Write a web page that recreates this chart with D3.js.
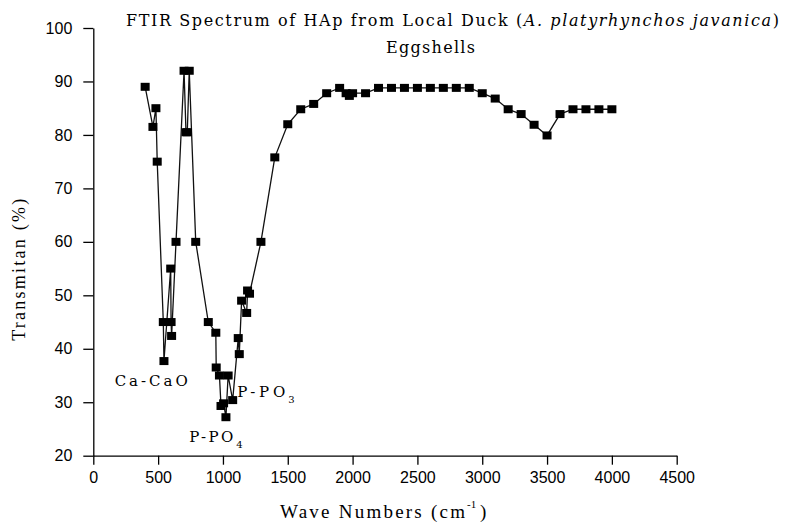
<!DOCTYPE html>
<html>
<head>
<meta charset="utf-8">
<script src="https://cdn.jsdelivr.net/npm/d3@7"></script>
<style>
  body { margin: 0; background: #fff; }
  svg { display: block; }
  .tick text { font-family: "Liberation Sans", Arial, sans-serif; font-size: 16px; fill: #000; }
  .domain, .tick line { stroke: #000; stroke-width: 1.3px; }
  .serif { font-family: "Liberation Serif", "Times New Roman", serif; fill: #000; }
  .wide { font-family: "DejaVu Serif", serif; fill: #000; }
</style>
</head>
<body>
<svg width="788" height="528"></svg>
<script>
/*------------------------
  ------ VARIABLES -------
  ------------------------*/

// data (wave number in cm-1, transmittance in %)
var wave  = [400, 460, 483, 493, 540, 545, 597, 600, 604, 638,
             700, 715, 725, 740, 790, 887, 945, 948, 973, 985,
             1005, 1023, 1040, 1075, 1118, 1126, 1144, 1183, 1190, 1205,
             1293, 1400, 1500, 1600, 1700, 1800, 1900, 1950, 1975, 2000,
             2100, 2200, 2300, 2400, 2500, 2600, 2700, 2800, 2900, 3000,
             3100, 3200, 3300, 3400, 3500, 3600, 3700, 3800, 3900, 4000];
var trans = [89, 81.5, 85, 75, 45, 37.7, 55, 45, 42.4, 60,
             92, 80.5, 80.5, 92, 60, 45, 43, 36.5, 35, 29.3,
             29.8, 27.2, 35, 30.4, 42, 39, 49, 46.7, 50.9, 50.3,
             60, 75.8, 82, 84.8, 85.8, 87.8, 88.8, 87.8, 87.3, 87.8,
             87.8, 88.8, 88.8, 88.8, 88.8, 88.8, 88.8, 88.8, 88.8, 87.8,
             86.8, 84.8, 83.9, 81.9, 79.9, 83.9, 84.8, 84.8, 84.8, 84.8];

// axes
var x_ticks = [0, 500, 1000, 1500, 2000, 2500, 3000, 3500, 4000, 4500];
var x_minor = [250, 750, 1250, 1750, 2250, 2750, 3250, 3750, 4250];
var y_ticks = [20, 30, 40, 50, 60, 70, 80, 90, 100];
var y_minor = [25, 35, 45, 55, 65, 75, 85, 95];

// peak labels
var peak_names = ["Ca-CaO", "P-PO", "P-PO"];
var peak_subs  = ["", "3", "4"];
var peak_wave  = [165, 1110, 740];
var peak_trans = [33.0, 31.0, 22.6];
var peak_len   = [73, 48, 44];

// texts
var title_main = "FTIR Spectrum of HAp from Local Duck (";
var title_ital = "A. platyrhynchos javanica";
var title_line2 = "Eggshells";

// display
var plot = {left: 93.3, top: 28, width: 583.4, height: 427.7};
var marker = {w: 9, h: 8};

var svg = d3.select("svg");
var x = d3.scaleLinear().domain([0, 4500]).range([plot.left, plot.left + plot.width]);
var y = d3.scaleLinear().domain([20, 100]).range([plot.top + plot.height, plot.top]);

/*---------------------
  ----- DRAW AXES -----
  ---------------------*/

function display_axes() {
    var gx = svg.append("g")
        .attr("transform", "translate(0," + y(20) + ")");
    gx.call(d3.axisBottom(x).tickValues(x_minor).tickSize(6).tickFormat(""));
    gx.call(d3.axisBottom(x).tickValues(x_ticks).tickSize(9).tickSizeOuter(0).tickPadding(7)
            .tickFormat(d3.format("d")));

    var gy = svg.append("g")
        .attr("transform", "translate(" + x(0) + ",0)");
    gy.call(d3.axisLeft(y).tickValues(y_minor).tickSize(6).tickFormat(""));
    gy.call(d3.axisLeft(y).tickValues(y_ticks).tickSize(10).tickSizeOuter(0).tickPadding(11)
            .tickFormat(d3.format("d")));
    svg.selectAll(".domain").attr("fill", "none");
}

/*---------------------
  ---- DRAW SERIES ----
  ---------------------*/

function display_series() {
    var pts = wave.map(function(w, i) { return [w, trans[i]]; });
    var line = d3.line()
        .x(function(d) { return x(d[0]); })
        .y(function(d) { return y(d[1]); });

    svg.append("path")
        .datum(pts)
        .attr("d", line)
        .attr("fill", "none")
        .attr("stroke", "#111")
        .attr("stroke-width", 1.3);

    svg.append("g").selectAll("rect")
        .data(pts)
        .enter()
        .append("rect")
        .attr("x", function(d) { return x(d[0]) - marker.w / 2; })
        .attr("y", function(d) { return y(d[1]) - marker.h / 2; })
        .attr("width", marker.w)
        .attr("height", marker.h)
        .attr("fill", "#000");
}

/*---------------------
  ---- DRAW LABELS ----
  ---------------------*/

function display_labels() {
    // title
    var t1 = svg.append("text").attr("class", "wide")
        .attr("x", 126).attr("y", 26)
        .attr("font-size", 16)
        .attr("textLength", 653).attr("lengthAdjust", "spacing");
    t1.append("tspan").text(title_main);
    t1.append("tspan").attr("font-style", "italic").text(title_ital);
    t1.append("tspan").text(")");

    svg.append("text").attr("class", "wide")
        .attr("x", 386).attr("y", 53)
        .attr("font-size", 16)
        .attr("textLength", 89).attr("lengthAdjust", "spacing")
        .text(title_line2);

    // axis titles
    svg.append("text").attr("class", "serif")
        .attr("transform", "translate(25," + (plot.top + plot.height / 2 + 28) + ") rotate(-90)")
        .attr("text-anchor", "middle")
        .attr("font-size", 18)
        .attr("textLength", 142).attr("lengthAdjust", "spacing")
        .text("Transmitan (%)");

    svg.append("text").attr("class", "serif")
        .attr("x", 280).attr("y", 518)
        .attr("font-size", 19)
        .attr("textLength", 185).attr("lengthAdjust", "spacing")
        .text("Wave Numbers (cm");
    svg.append("text").attr("class", "serif")
        .attr("x", 467).attr("y", 508)
        .attr("font-size", 11)
        .text("-1");
    svg.append("text").attr("class", "serif")
        .attr("x", 480).attr("y", 518)
        .attr("font-size", 19)
        .text(")");

    // peak names
    for (var i = 0; i < peak_names.length; i++) {
        var px = x(peak_wave[i]), py = y(peak_trans[i]);
        svg.append("text").attr("class", "wide")
            .attr("x", px).attr("y", py)
            .attr("font-size", 15)
            .attr("textLength", peak_len[i]).attr("lengthAdjust", "spacing")
            .text(peak_names[i]);
        if (peak_subs[i] != "") {
            svg.append("text").attr("class", "wide")
                .attr("x", px + peak_len[i] + 3).attr("y", py + 6)
                .attr("font-size", 10)
                .text(peak_subs[i]);
        }
    }
}

/*------------------
  ------ RUN -------
  ------------------*/

display_axes();
display_series();
display_labels();
</script>
</body>
</html>
